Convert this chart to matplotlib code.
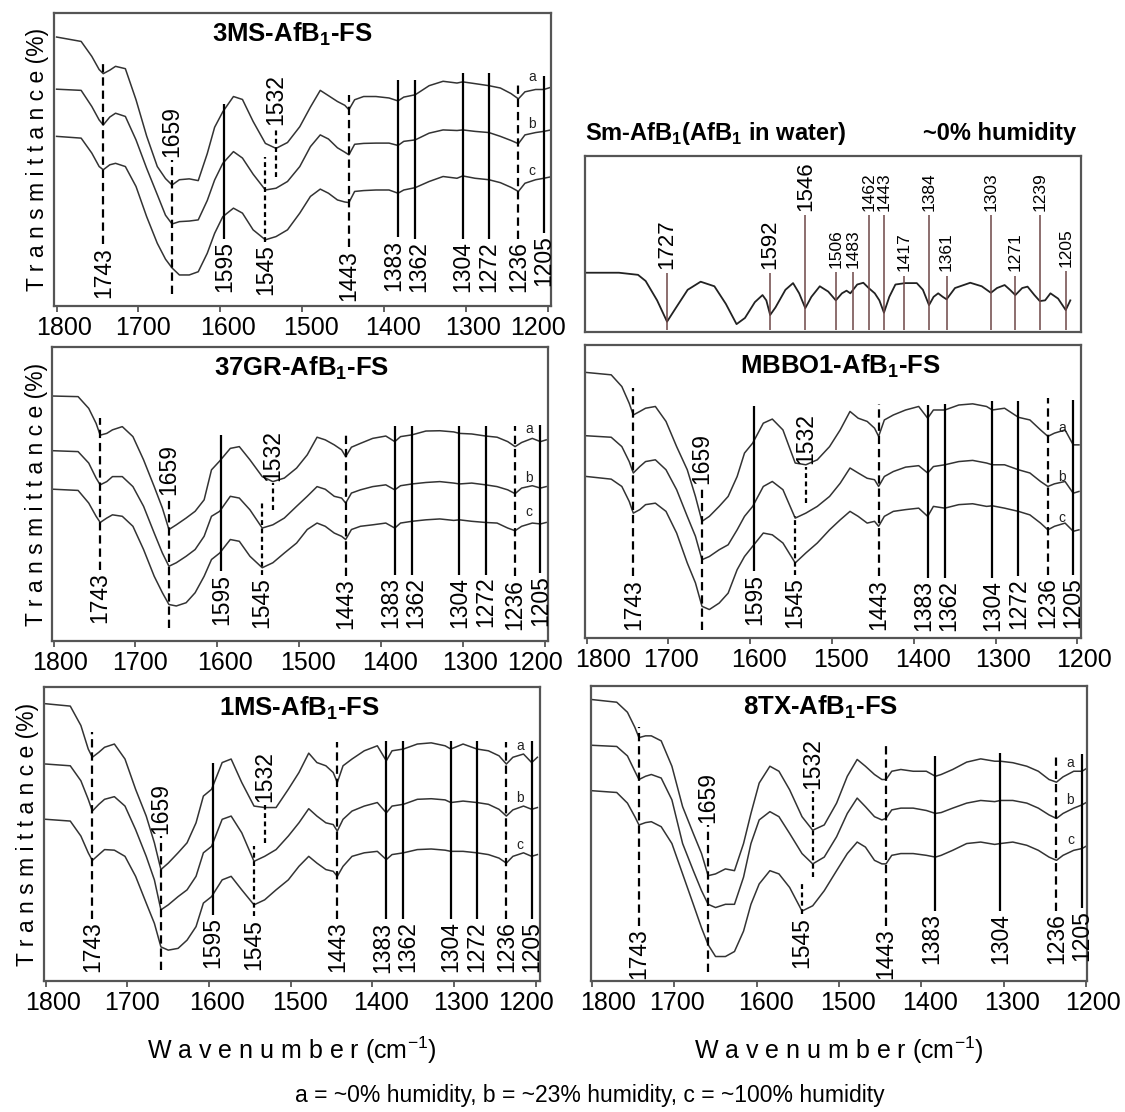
import matplotlib.pyplot as plt
from matplotlib.transforms import ScaledTranslation

plt.rcParams['font.family'] = ['Liberation Sans', 'DejaVu Sans']
plt.rcParams['mathtext.fontset'] = 'custom'
plt.rcParams['mathtext.rm'] = 'Liberation Sans'
plt.rcParams['mathtext.bf'] = 'Liberation Sans:bold'
plt.rcParams['lines.scale_dashes'] = False


# -- -----------------------------
# Wavenumber grid (cm-1) shared by the five film spectra
wn = [1800, 1770, 1757, 1748, 1743, 1735, 1728, 1716, 1703, 1690,
      1677, 1667, 1659, 1650, 1638, 1627, 1616, 1607, 1597, 1584,
      1573, 1560, 1545, 1532, 1518, 1503, 1490, 1478, 1468, 1457,
      1448, 1443, 1436, 1425, 1410, 1394, 1383, 1376, 1362, 1345,
      1328, 1311, 1304, 1289, 1272, 1258, 1245, 1236, 1228, 1215,
      1205, 1198]

# Transmittance (a.u., stacked) -- a = ~0 %, b = ~23 %, c = ~100 % humidity
t_3ms_a = [91.8, 90.3, 85.2, 80.7, 79.3, 80.5, 81.8, 81.0, 70.4, 58,
           47.6, 43.5, 41.3, 43.1, 43.4, 42.8, 52, 61, 66.3, 71.5,
           70.5, 63, 55.5, 53.8, 55.8, 61.2, 67.9, 73.6, 71.8, 69.8,
           68.5, 67, 70.4, 71.5, 71.5, 71, 70, 71.3, 72.1, 75.2,
           76.7, 76.1, 76.5, 75.9, 75.2, 74.4, 72.5, 70.7, 73.1, 73.9,
           73.9, 74.5]
t_3ms_b = [74, 73.6, 68.1, 63.5, 61.8, 64.5, 65.8, 64.7, 56.7, 47,
           38, 31, 28, 28.8, 29.0, 29.4, 36, 43, 48.7, 52.7,
           50.5, 45, 39.6, 40.2, 42.5, 47.6, 54.4, 58.4, 57, 54,
           52.5, 51.6, 55.2, 55.5, 55.6, 55.6, 54.8, 56.2, 56.7, 59,
           60.1, 59.9, 60.1, 59.6, 59.2, 57.9, 56.5, 55.4, 58.4, 59.2,
           59.6, 60]
t_3ms_c = [57.9, 57.3, 52.2, 47.6, 46.5, 48.2, 48.7, 47.6, 40.8, 30.5,
           21.4, 16, 13, 10.6, 10.6, 11.7, 18, 24.8, 30.5, 33.4,
           31.7, 26, 22.6, 23.7, 26, 31.7, 37.4, 39.9, 38.5, 36.2,
           35.5, 35.3, 39.1, 39.4, 39.6, 39.6, 38.5, 39.6, 40.4, 42.5,
           44.2, 43.6, 44.4, 43.6, 43.1, 42.1, 40.5, 39.1, 41.9, 43.1,
           43.6, 44]

t_37gr_a = [83.3, 83.1, 79.1, 74, 70, 70.6, 71.8, 72.9, 69.5, 61.6,
            52.5, 45.2, 37.9, 39.5, 41.8, 44.1, 48, 58.2, 61.2, 65.5,
            66.1, 61.6, 55.9, 54.2, 55.4, 58.8, 63.3, 69.3, 68.4, 66.7,
            65, 62.7, 65.9, 67.2, 68.9, 69.7, 67.8, 69.5, 70.1, 71.4,
            71.5, 71.1, 70.6, 70.4, 69.7, 69.3, 67.8, 66.1, 67.5, 68.9,
            67.8, 68.4]
t_37gr_b = [64.7, 64.4, 60.5, 55.4, 53.1, 54.2, 55.9, 55.9, 52.5, 45.8,
            36.7, 29.9, 25.4, 26.6, 28.8, 31.1, 35.6, 42.4, 44.1, 49.2,
            48.6, 44.6, 38.4, 39.5, 41.8, 45.8, 49.2, 52.5, 51.6, 49.2,
            48.6, 46.9, 50.3, 51.4, 52.5, 53.1, 51.4, 52.8, 53.4, 53.9,
            54.2, 53.7, 53.4, 53.7, 53.1, 52.5, 51.4, 50.1, 52, 52.8,
            52, 52.5]
t_37gr_c = [51.6, 51.2, 46.9, 42.4, 40.3, 41.8, 42.9, 42.4, 39, 31.1,
            22, 16.4, 12.4, 11.9, 13, 16.4, 22, 27.7, 29.9, 34.5,
            33.9, 28.8, 24.9, 26.6, 29.9, 33.3, 37.9, 40.1, 39, 36.7,
            35.6, 34.5, 37.9, 39, 39.5, 40.1, 38.4, 40.1, 40.7, 41.2,
            41.5, 41, 41.2, 40.7, 40.3, 40.1, 38.4, 37.5, 39, 40.1,
            39.8, 40.3]

t_1ms_a = [94.3, 93.5, 86.9, 78.9, 76.1, 77.8, 79.5, 80.6, 75.5, 65.2,
           56.1, 47, 37.9, 40.1, 43.6, 47, 53.8, 62.9, 65.2, 74.3,
           75.5, 67.5, 59.5, 59, 59, 65.2, 70.9, 77.5, 74.3, 73.2,
           70.9, 67.5, 73.2, 75.5, 78.3, 80, 74.9, 78.3, 78.9, 80.6,
           81, 80, 78.9, 80.6, 78.9, 78.3, 76.6, 73.8, 76.1, 77.2,
           74.3, 76.1]
t_1ms_b = [73.8, 73.2, 68.1, 61.8, 57.8, 60.1, 61.8, 62.7, 59.5, 51.5,
           42.4, 34.4, 24.2, 25.9, 28.7, 31, 35.6, 43.6, 45.8, 55,
           56.1, 50.4, 40.7, 42.4, 44.7, 49.3, 53.8, 58.6, 56.1, 53.8,
           53.2, 51, 55, 57.8, 59.5, 60.7, 57.2, 59.5, 60.1, 61.8,
           62, 61.6, 60.7, 61.2, 60.7, 60.1, 58.4, 56.1, 58.2, 59.5,
           58.4, 59]
t_1ms_c = [55, 54.4, 49.3, 43.6, 41, 43, 44.7, 44.5, 42.4, 35.6,
           26.5, 19.6, 11.6, 10.5, 11.1, 13.9, 18.5, 26.5, 28.7, 34.4,
           35.6, 31, 25.9, 27.6, 31, 34.4, 39, 42.4, 40.1, 37.9,
           37.3, 35.6, 39, 42.4, 43.6, 44.1, 41.3, 43, 43.6, 44.7,
           44.9, 44.5, 44.1, 44.1, 43.6, 43, 41.8, 40.1, 42.4, 43.6,
           42.4, 43]

t_mbbo1_a = [90.6, 89.8, 85.8, 80.1, 76.1, 77.3, 78.4, 79, 73.9, 65.3,
             57.4, 48.3, 39.8, 41.5, 44.9, 48.3, 55.1, 63.1, 66.5, 73.3,
             74.7, 71, 59.7, 59.1, 60.8, 65.3, 71, 77.3, 75, 73.9,
             71.6, 68.8, 74.4, 76.1, 77.8, 79, 75, 77.8, 77.8, 79.5,
             79.9, 79, 77.8, 78.4, 75.3, 74.4, 71, 68.8, 69.9, 71,
             65.9, 65.9]
t_mbbo1_b = [69, 68.5, 65.3, 60.2, 56.3, 58.5, 60.2, 60.8, 57.4, 50.6,
             41.5, 34.7, 26.7, 27.8, 30.1, 31.8, 36.9, 41.5, 44.9, 51.7,
             53.4, 50.6, 40.9, 42.6, 44.9, 48.3, 52.8, 58, 56.3, 54.5,
             54, 51.7, 55.1, 56.8, 58.3, 58.8, 56.3, 58.5, 59.1, 60.2,
             60.6, 59.7, 59.1, 59.1, 57.4, 56.3, 53.4, 51.7, 52.6, 53.4,
             49.4, 50]
t_mbbo1_c = [55.1, 54.2, 51.7, 46.6, 42.6, 43.8, 45.5, 46, 43.2, 35.8,
             25.6, 18.8, 10.8, 9.7, 11.9, 15.3, 23.3, 27.8, 31.3, 35.8,
             35.2, 32.4, 25.6, 29, 32.4, 36.9, 40.3, 43.2, 41.5, 39.2,
             39.8, 38.1, 41.5, 43.2, 43.8, 44.3, 41.5, 44.9, 44.3, 45.5,
             45.8, 44.9, 45.1, 44.3, 43.2, 42, 39.2, 36.9, 38.1, 39.2,
             36.4, 36.9]

t_8tx_a = [95.4, 94.5, 91.1, 86, 82.5, 83.1, 83.1, 81.4, 72.8, 59.1,
           50, 43.2, 35.7, 36.3, 38, 37.4, 46.6, 56.8, 67.1, 72.8,
           71.1, 64.8, 55.7, 51.1, 52.9, 60.3, 69.4, 75.1, 72.8, 70,
           68.3, 68.3, 71.1, 71.7, 71.1, 71.1, 69.4, 70, 71.7, 74.2,
           75.3, 74.5, 74.5, 74, 72.8, 71.1, 68.3, 67.4, 69.2, 71.1,
           71.1, 72.3]
t_8tx_b = [79.9, 79.5, 76.3, 71.1, 68.3, 69.4, 70, 68.8, 61.4, 46.6,
           37.4, 30.6, 26, 24.9, 26, 26, 35.2, 46.6, 54.6, 57.4,
           55.7, 50, 43.2, 39.7, 42, 48.9, 56.8, 62, 59.1, 55.7,
           54.6, 55.1, 58, 58.6, 58.6, 57.8, 56.8, 57.1, 58.6, 60.3,
           61.2, 60.8, 61.2, 61.2, 60.3, 58.6, 56.3, 55.1, 56.8, 58.6,
           59.7, 60.8]
t_8tx_c = [64.5, 63.9, 60.3, 55.7, 52.9, 53.7, 54, 52.3, 46.6, 36.3,
           26, 18, 12.3, 8.3, 8.3, 10, 16.9, 26, 32.9, 37.4,
           36.3, 31.7, 23.7, 25.5, 30.6, 37.4, 43.2, 47.1, 45.4, 40.9,
           39.7, 39.7, 42.6, 43.2, 43.2, 42.6, 42, 42.6, 44.3, 46.6,
           47.1, 46.3, 46.6, 47.1, 46, 44.3, 42, 40.9, 42.6, 44.3,
           44.9, 46]

# AfB1 in water reference spectrum
sm_wn = [1835, 1790, 1765, 1755, 1740, 1727, 1715, 1700, 1683, 1665,
         1650, 1636, 1625, 1612, 1602, 1597, 1592, 1585, 1572, 1562,
         1554, 1546, 1538, 1527, 1516, 1506, 1498, 1492, 1487, 1478,
         1470, 1463, 1455, 1449, 1443, 1436, 1428, 1415, 1400, 1392,
         1384, 1378, 1372, 1366, 1361, 1350, 1330, 1315, 1303, 1295,
         1285, 1278, 1271, 1262, 1255, 1246, 1239, 1232, 1225, 1215,
         1205, 1199]
sm_t = [33.7, 33.7, 32.5, 29, 18, 5.9, 14, 24, 28.6, 26,
        16, 4.5, 8, 17, 21, 18, 9.7, 14, 24, 27.8,
        22, 13.6, 20, 26, 23, 18, 22, 23.5, 22, 27,
        28, 25, 22, 18, 11, 20, 27, 27.8, 27.8, 24,
        15.3, 20, 22, 20, 18.6, 25, 28, 26, 22.3, 25,
        26.7, 24, 21, 25, 25.8, 21, 17.6, 18, 22, 19,
        12.5, 18]
sm_bands = [1727, 1592, 1546, 1506, 1483, 1462, 1443, 1417, 1384, 1361,
            1303, 1271, 1239, 1205]

bands_full = [1743, 1659, 1595, 1545, 1532, 1443, 1383, 1362, 1304, 1272,
              1236, 1205]
bands_8tx = [1743, 1659, 1545, 1532, 1443, 1383, 1304, 1236, 1205]

xticks = [1800, 1700, 1600, 1500, 1400, 1300, 1200]
humidity = ['a', 'b', 'c']
# -- -----------------------------


# -- -----------------------------
# Styling of the band markers
LONG_DASH = (0, (6, 3.5))
SHORT_DASH = (0, (3.5, 2.5))
band_style = {1743: LONG_DASH, 1659: LONG_DASH, 1443: LONG_DASH,
              1236: LONG_DASH, 1545: SHORT_DASH, 1532: SHORT_DASH}
label_above = (1659, 1532)
# sideways nudge (px) for labels of closely spaced bands
label_nudge = {1383: -4, 1362: 4}

CURVE = '#333333'
FRAME = '#555555'

fig = plt.figure(figsize=(11.25, 11.12), dpi=100)


def px_offset(dx):
    return ScaledTranslation(dx / 100, 0, fig.dpi_scale_trans)


def frame(ax):
    for s in ax.spines.values():
        s.set_color(FRAME)
        s.set_linewidth(1.6)
    ax.set_yticks([])
    ax.set_ylim(0, 100)


def shift_ticklabels(ax, shifts_px):
    for tick, dx in zip(ax.xaxis.get_major_ticks(), shifts_px):
        lab = tick.label1
        lab.set_transform(lab.get_transform() + px_offset(dx))


def film_panel(rect, xlim, title, title_x, curves, bands, extents,
               letter_y, shifts, ylabel=True):
    ax = fig.add_axes(rect)
    frame(ax)
    ax.set_xlim(*xlim)

    for t in curves:
        ax.plot(wn, t, color=CURVE, lw=1.1)

    for band in bands:
        lo, hi = extents[band]
        ax.vlines(band, lo, hi, color='black', lw=1.6,
                  linestyle=band_style.get(band, '-'))
        tr = ax.transData + px_offset(label_nudge.get(band, 0))
        if band in label_above:
            ax.text(band, hi + 0.8, str(band), rotation=90, ha='center',
                    va='bottom', fontsize=16.5, transform=tr)
        else:
            ax.text(band, lo - 0.8, str(band), rotation=90, ha='center',
                    va='top', fontsize=16.5, transform=tr)

    for letter, y in zip(humidity, letter_y):
        ax.text(1219, y, letter, ha='center', va='center', fontsize=10,
                color='#222222')

    ax.text(title_x, 0.975, title, transform=ax.transAxes, ha='center',
            va='top', fontsize=18.5, fontweight='bold')

    ax.set_xticks(xticks)
    ax.tick_params(axis='x', labelsize=18, length=4.5, width=1.3,
                   pad=2.5, color=FRAME)
    shift_ticklabels(ax, shifts)

    if ylabel:
        ax.set_ylabel('T r a n s m i t t a n c e (%)', fontsize=16.5,
                      labelpad=3)
    return ax


LEFT_SHIFTS = [7, 5, 8, 9, 9, 7, -10]
RIGHT_SHIFTS = [16, 3, 9, 9, 9, 8, 7]

# -- -----------------------------
# 3MS
film_panel([0.0476, 0.7248, 0.4421, 0.2635], (1803.7, 1196.3),
           r'3MS-AfB$_\mathbf{1}$-FS', 0.48,
           [t_3ms_a, t_3ms_b, t_3ms_c], bands_full,
           {1743: (21, 84), 1659: (4, 50), 1595: (23, 69), 1545: (22, 51),
            1532: (44, 61), 1443: (20, 72), 1383: (23.5, 77),
            1362: (23, 77), 1304: (23, 79.5), 1272: (23, 79.5),
            1236: (23, 76), 1205: (25, 78.6)},
           [78, 62, 46], LEFT_SHIFTS)

# 37GR
film_panel([0.0460, 0.4236, 0.4411, 0.2644], (1802.2, 1195.8),
           r'37GR-AfB$_\mathbf{1}$-FS', 0.504,
           [t_37gr_a, t_37gr_b, t_37gr_c], bands_full,
           {1743: (24.3, 75.7), 1659: (4.5, 49), 1595: (23.7, 70),
            1545: (22.6, 47), 1532: (44.6, 53.7), 1443: (22, 70.6),
            1383: (22.6, 73), 1362: (22.6, 73), 1304: (22.6, 73),
            1272: (22.6, 73), 1236: (22, 73), 1205: (23.2, 73.4)},
           [72, 55.4, 43.7], LEFT_SHIFTS)

# 1MS
ax5 = film_panel([0.0388, 0.1178, 0.4412, 0.2644], (1802.6, 1194.8),
                 r'1MS-AfB$_\mathbf{1}$-FS', 0.515,
                 [t_1ms_a, t_1ms_b, t_1ms_c], bands_full,
                 {1743: (21, 84.6), 1659: (3.6, 49.3), 1595: (22.5, 74.3),
                  1545: (22, 45.8), 1532: (47, 60), 1443: (21, 81.2),
                  1383: (21, 81.8), 1362: (21, 81.8), 1304: (21, 81.8),
                  1272: (21, 81.8), 1236: (21, 81.2), 1205: (21, 81.8)},
                 [80, 62.4, 46.4], LEFT_SHIFTS)

# MBBO1
film_panel([0.5196, 0.4263, 0.4413, 0.2635], (1802.6, 1195.5),
           r'MBBO1-AfB$_\mathbf{1}$-FS', 0.515,
           [t_mbbo1_a, t_mbbo1_b, t_mbbo1_c], bands_full,
           {1743: (21, 85.2), 1659: (2.8, 51.7), 1595: (22.7, 79),
            1545: (21.6, 41.5), 1532: (46, 58.5), 1443: (21, 80),
            1383: (20.5, 79.5), 1362: (20.5, 80), 1304: (20.5, 80.7),
            1272: (21, 80.7), 1236: (21.6, 81.8), 1205: (21.6, 81.3)},
           [71.6, 55, 41], RIGHT_SHIFTS, ylabel=False)

# 8TX
ax6 = film_panel([0.5250, 0.1178, 0.4413, 0.2653], (1801.7, 1198.8),
                 r'8TX-AfB$_\mathbf{1}$-FS', 0.464,
                 [t_8tx_a, t_8tx_b, t_8tx_c], bands_8tx,
                 {1743: (18.6, 86), 1659: (3.2, 52.9), 1545: (22.6, 32.9),
                  1532: (35.2, 64.3), 1443: (18.6, 80.3), 1383: (23.7, 76.3),
                  1304: (23.7, 77.4), 1236: (23.7, 77.4), 1205: (24.9, 76.8)},
                 [74, 61.4, 47.7], RIGHT_SHIFTS, ylabel=False)

for ax in (ax5, ax6):
    ax.set_xlabel(r'W a v e n u m b e r (cm$^{\mathregular{-1}}$)',
                  fontsize=18, labelpad=14)

# -- -----------------------------
# Sm-AfB1 reference (AfB1 in water)
ax2 = fig.add_axes([0.5196, 0.7014, 0.4413, 0.1583])
frame(ax2)
ax2.set_xlim(1835, 1185)
ax2.set_xticks([])
ax2.plot(sm_wn, sm_t, color='#222222', lw=1.3)

sm_top = {1727: 33.5, 1592: 33.5, 1546: 66.5, 1506: 34, 1483: 34,
          1462: 66.5, 1443: 66.5, 1417: 32, 1384: 66.5, 1361: 32,
          1303: 66.5, 1271: 32, 1239: 66.5, 1205: 34.5}
sm_big = (1727, 1592, 1546)
for band in sm_bands:
    ax2.vlines(band, 1, sm_top[band], color='#6e4646', lw=1.1)
    ax2.text(band, sm_top[band] + 2.5, str(band), rotation=90,
             ha='center', va='bottom',
             fontsize=16 if band in sm_big else 12.5)

ax2.text(0.0, 1.13, r'Sm-AfB$_\mathbf{1}$(AfB$_\mathbf{1}$ in water)',
         transform=ax2.transAxes, ha='left', va='center', fontsize=17,
         fontweight='bold')
ax2.text(0.99, 1.13, '~0% humidity', transform=ax2.transAxes,
         ha='right', va='center', fontsize=17, fontweight='bold')

fig.text(0.524, 0.015, 'a = ~0% humidity, b = ~23% humidity, c = ~100% humidity',
         ha='center', va='center', fontsize=16.5)

fig.savefig('out.png', dpi=100)
